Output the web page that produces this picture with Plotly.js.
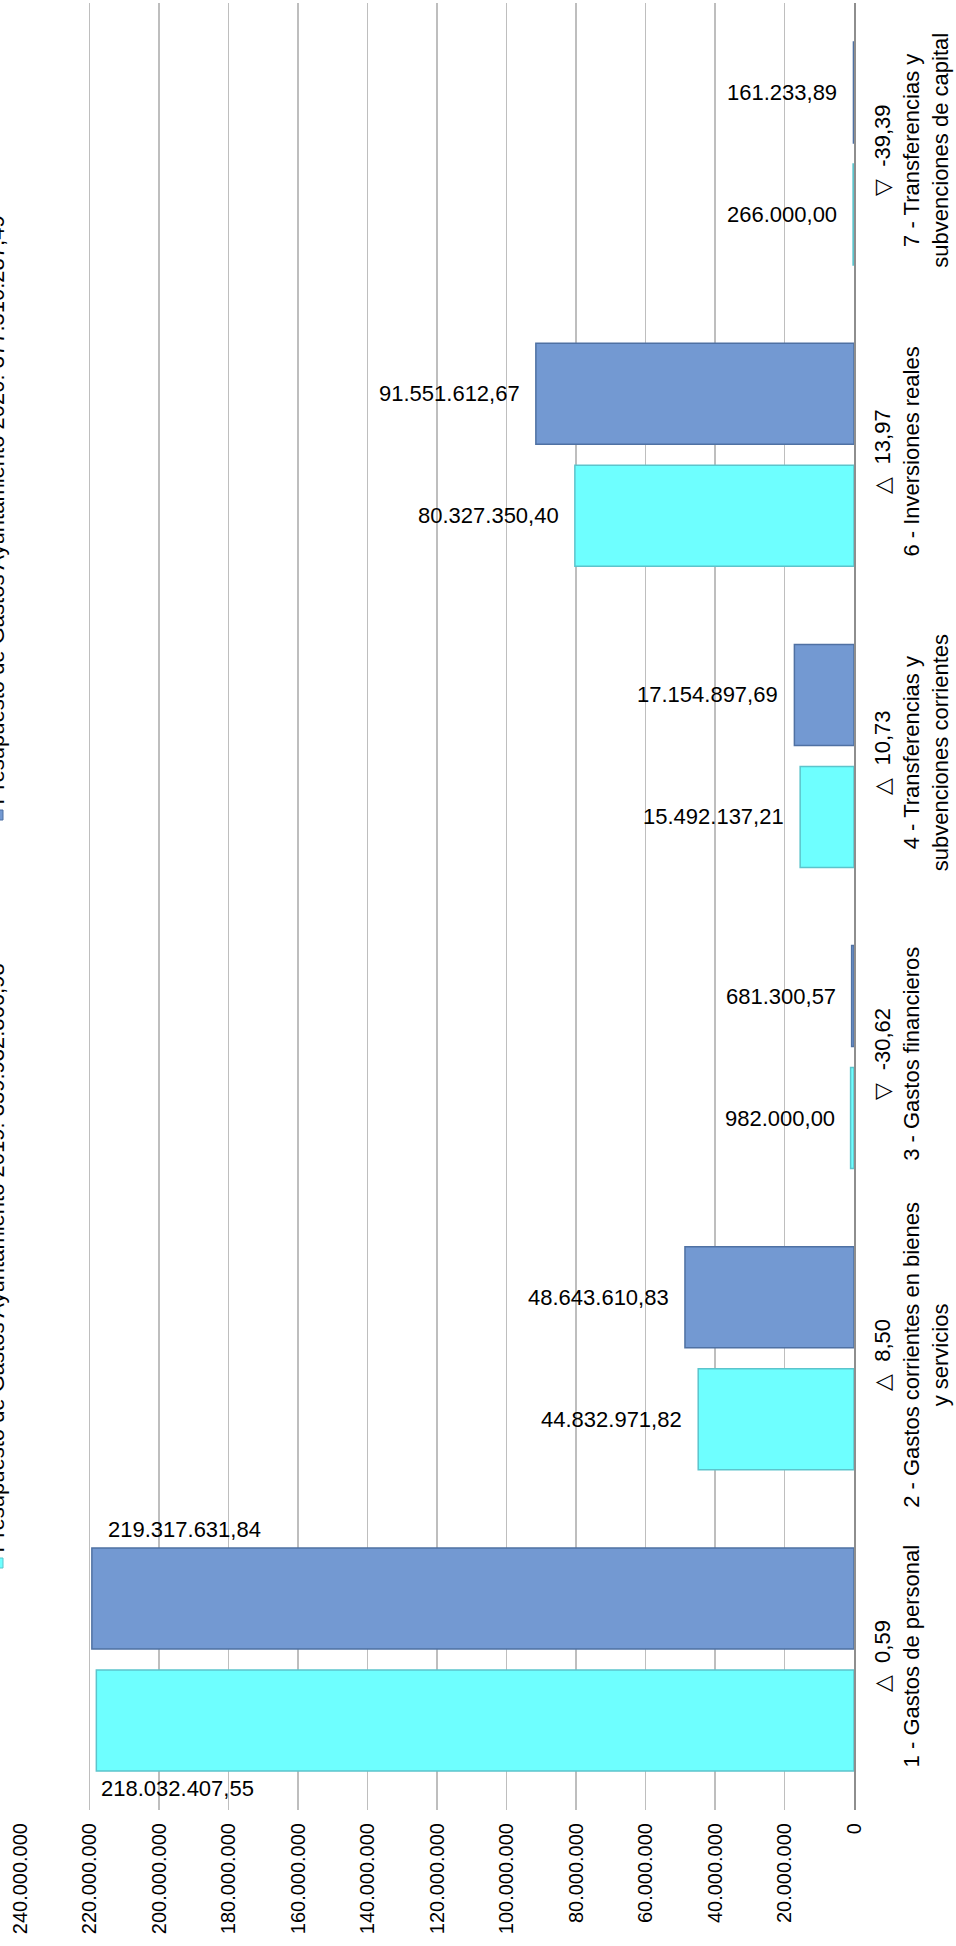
<!DOCTYPE html>
<html>
<head>
<meta charset="utf-8">
<script src="https://cdn.plot.ly/plotly-3.0.1.min.js"></script>
<style>
html,body{margin:0;padding:0;background:#fff;}
#chart{width:956px;height:1946px;}
</style>
</head>
<body>
<div id="chart"></div>
<script>
// ---- data ----
const categories = ["1 - Gastos de personal","2 - Gastos corrientes en bienes y servicios","3 - Gastos financieros","4 - Transferencias y subvenciones corrientes","6 - Inversiones reales","7 - Transferencias y subvenciones de capital"];
const categoryLines = [
  ["1 - Gastos de personal"],
  ["2 - Gastos corrientes en bienes","y servicios"],
  ["3 - Gastos financieros"],
  ["4 - Transferencias y","subvenciones corrientes"],
  ["6 - Inversiones reales"],
  ["7 - Transferencias y","subvenciones de capital"]
];
const changeSymbols = ["△","△","▽","△","△","▽"];
const changePct = ["0,59","8,50","-30,62","10,73","13,97","-39,39"];
const series1Name = "Presupuesto de Gastos Ayuntamiento 2019: 359.932.866,98";
const series2Name = "Presupuesto de Gastos Ayuntamiento 2020: 377.510.287,49";
const series1Values = [218032407.55, 44832971.82, 982000.00, 15492137.21, 80327350.40, 266000.00];
const series2Values = [219317631.84, 48643610.83, 681300.57, 17154897.69, 91551612.67, 161233.89];
const series1Labels = ["218.032.407,55","44.832.971,82","982.000,00","15.492.137,21","80.327.350,40","266.000,00"];
const series2Labels = ["219.317.631,84","48.643.610,83","681.300,57","17.154.897,69","91.551.612,67","161.233,89"];
const tickValues = [0,20000000,40000000,60000000,80000000,100000000,120000000,140000000,160000000,180000000,200000000,220000000,240000000];
const tickLabels = ["0","20.000.000","40.000.000","60.000.000","80.000.000","100.000.000","120.000.000","140.000.000","160.000.000","180.000.000","200.000.000","220.000.000","240.000.000"];

// ---- layout constants ----
const W = 956, H = 1946;
const M = {l:20, r:102, t:3, b:136};
const plotW = W - M.l - M.r;
const plotH = H - M.t - M.b;
const axisMax = 240000000;
const FONT = "Liberation Sans, Arial, sans-serif";

const catText = categories.map((c,i)=> changeSymbols[i] + "  " + changePct[i] + "<br>" + categoryLines[i].join("<br>"));

const cyan = "#6EFFFF", cyanLine = "#5CC4CC";
const blue = "#7399D2", blueLine = "#4F71A3";

const traces = [
  {type:"bar", orientation:"h", name:series1Name, y:categories, x:series1Values,
   marker:{color:cyan, line:{color:cyanLine, width:1.5}}, hoverinfo:"skip"},
  {type:"bar", orientation:"h", name:series2Name, y:categories, x:series2Values,
   marker:{color:blue, line:{color:blueLine, width:1.5}}, hoverinfo:"skip"}
];

const bandPx = plotH / categories.length;
const bargap = 0.19, bargroupgap = 0.172;
const slotPx = bandPx*(1-bargap)/2;
const barPx = slotPx*(1-bargroupgap);
const centerOff = slotPx/2;

const annotations = [];
function addLabels(vals, labels, sign){
  vals.forEach((v,i)=>{
    const endPx = plotW * v / axisMax;
    const nearEdge = (plotW - endPx) < 170;
    if (nearEdge){
      annotations.push({x:v, y:categories[i], xref:"x", yref:"y", text:labels[i], showarrow:false,
        xanchor:"left", yanchor:"middle", xshift: sign<0 ? 3 : 14,
        yshift: sign*(centerOff + barPx/2 + 18),
        font:{family:FONT, size:22, color:"#000"}});
    } else {
      annotations.push({x:v, y:categories[i], xref:"x", yref:"y", text:labels[i], showarrow:false,
        xanchor:"right", yanchor:"middle", xshift:-14, yshift: sign*centerOff,
        font:{family:FONT, size:22, color:"#000"}});
    }
  });
}
addLabels(series1Values, series1Labels, -1);
addLabels(series2Values, series2Labels, +1);

// rotated legend on the left edge (partly outside the picture, as in the reference)
const legendItems = [[series1Name, cyan, cyanLine, 1563],[series2Name, blue, blueLine, 815]];
const shapes = [];
legendItems.forEach(([name,col,lc,yPx])=>{
  annotations.push({xref:"paper", yref:"paper", x:(-4 - M.l)/plotW, y:(H - M.b - yPx)/plotH,
    text:name, showarrow:false, textangle:-90, xanchor:"center", yanchor:"bottom",
    yshift:8, font:{family:FONT, size:22, color:"#000"}});
  shapes.push({type:"rect", xref:"paper", yref:"paper",
    x0:(-M.l - 6)/plotW, x1:(-M.l + 3)/plotW,
    y0:(H - M.b - yPx - 5)/plotH, y1:(H - M.b - yPx + 5)/plotH,
    fillcolor:col, line:{color:lc, width:1}});
});

const layout = {
  width:W, height:H,
  margin:M,
  paper_bgcolor:"#fff", plot_bgcolor:"#fff",
  barmode:"group", bargap:bargap, bargroupgap:bargroupgap,
  showlegend:false,
  xaxis:{range:[axisMax,0], tickvals:tickValues, ticktext:tickLabels, tickangle:-90,
    showgrid:true, gridcolor:"#BEBEBE", gridwidth:1.5, zeroline:false, showline:false,
    ticks:"", ticklabelstandoff:8,
    tickfont:{family:FONT, size:20, color:"#000"}},
  yaxis:{type:"category", categoryorder:"array", categoryarray:categories, side:"right",
    tickvals:categories, ticktext:catText, tickangle:-90, showgrid:false, zeroline:false,
    showline:true, linecolor:"#8E8E8E", linewidth:2, ticks:"", ticklabelstandoff:8,
    tickfont:{family:FONT, size:22, color:"#000"}},
  annotations:annotations,
  shapes:shapes
};

Plotly.newPlot("chart", traces, layout, {displayModeBar:false, staticPlot:true});
</script>
</body>
</html>
